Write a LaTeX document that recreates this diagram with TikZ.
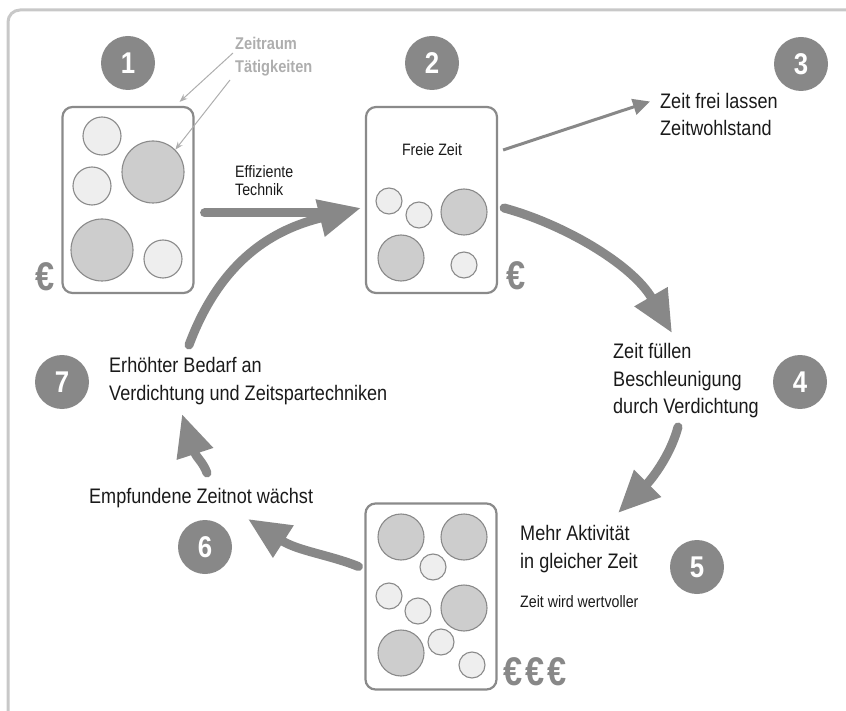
\documentclass[tikz,border=0pt]{standalone}
\usepackage{fontspec}
\setmainfont{Liberation Sans}[FakeStretch=0.86]
\usetikzlibrary{arrows.meta,positioning,calc}
\definecolor{arrowgray}{HTML}{888888}
\definecolor{rimgray}{HTML}{8A8A8A}
\definecolor{hintgray}{HTML}{AEAEAE}
\definecolor{framegray}{HTML}{C8C8C8}
\definecolor{lightfill}{HTML}{EEEEEE}
\definecolor{darkfill}{HTML}{CDCDCD}
\definecolor{inkblack}{HTML}{1A1A1A}

\begin{document}
\begin{tikzpicture}[
x=1pt,y=-1pt,
>={Triangle[length=42pt,width=36pt]},
badge/.style={
	circle,
	fill=arrowgray,
	text=white,
	minimum size=54pt,
	inner sep=0pt,
	font=\fontsize{30}{30}\selectfont\bfseries
},
panel/.style={
	draw=rimgray,
	line width=2.2pt,
	rounded corners=10pt,
	minimum width=131pt,
	minimum height=186pt,
	inner sep=0pt
},
lightdot/.style={
	circle,
	draw=rimgray,
	fill=lightfill,
	line width=1.1pt,
	inner sep=0pt
},
darkdot/.style={
	circle,
	draw=rimgray,
	fill=darkfill,
	line width=1.1pt,
	inner sep=0pt
},
say/.style={
	anchor=west,
	align=left,
	text=inkblack,
	inner sep=0pt,
	font=\fontsize{21}{27.5}\selectfont
},
small/.style={
	align=left,
	text=inkblack,
	inner sep=0pt,
	font=\fontsize{16.5}{18}\selectfont
},
euro/.style={
	text=arrowgray,
	inner sep=0pt,
	font=\fontsize{40}{40}\selectfont\bfseries
},
hintlabel/.style={
	anchor=west,
	text=hintgray,
	inner sep=0pt,
	font=\fontsize{17}{17}\selectfont\bfseries
},
flow/.style={
	->,
	draw=arrowgray,
	line width=9pt,
	line cap=round
},
thinflow/.style={
	-{Triangle[length=17pt,width=16pt]},
	draw=arrowgray,
	line width=3pt
},
hint/.style={
	-{Stealth[length=8pt,width=6pt]},
	draw=hintgray,
	line width=1pt
}
]
\useasboundingbox (0,0) rectangle (846,711);
\begin{scope}
\clip (0,0) rectangle (846,711);
\draw[framegray,line width=3pt,rounded corners=12pt] (8,760) -- (8,10) -- (900,10);
\end{scope}

% the three panels
\node[panel] (panA) at (128,200) {};
\node[panel] (panB) at (431.5,200) {};
\node[panel] (panC) at (431,596.5) {};

% activities in panel 1
\foreach \x/\y/\n in {102/136/1,92/186/2,163/259/3}
\node[lightdot,minimum size=38pt] (la\n) at (\x,\y) {};
\foreach \x/\y/\n in {153/172/1,102/250/2}
\node[darkdot,minimum size=62pt] (da\n) at (\x,\y) {};

% activities in panel 2
\foreach \x/\y/\n in {389/201/1,419/215/2,464/265/3}
\node[lightdot,minimum size=26pt] (lb\n) at (\x,\y) {};
\foreach \x/\y/\n in {464/212/1,401/258/2}
\node[darkdot,minimum size=46pt] (db\n) at (\x,\y) {};
\node[small,anchor=center] (freetime) at (432,150) {Freie Zeit};

% activities in panel 3
\foreach \x/\y/\n in {433/567/1,389/596/2,418/611/3,441/642/4,472/665/5}
\node[lightdot,minimum size=26pt] (lc\n) at (\x,\y) {};
\foreach \x/\y/\n in {401/537/1,464/537/2,464/608/3,401/653/4}
\node[darkdot,minimum size=46pt] (dc\n) at (\x,\y) {};

% money
\node[euro] (eurA) at (45,277) {€};
\node[euro] (eurB) at (516,276) {€};
\node[euro,anchor=west] (eurC) at (503,672) {€\kern3pt€\kern3pt€};

% numbers
\foreach \n/\x/\y in {1/128/63,2/432/63,3/801/64,4/800/382,5/697/567,6/205/547,7/62/382}
\node[badge] (n\n) at (\x,\y) {\n};

% texts
\node[hintlabel] (raum) at (235,43) {Zeitraum};
\node[hintlabel] (taet) at (235,68) {Tätigkeiten};
\node[small,anchor=west] (tech) at (235,181) {Effiziente\\Technik};
\node[say] (t3) at (660,114.5) {Zeit frei lassen\\Zeitwohlstand};
\node[say] (t4) at (613,381) {Zeit füllen\\Beschleunigung\\durch Verdichtung};
\node[say] (t5) at (520,549) {Mehr Aktivität\\in gleicher Zeit};
\node[small,anchor=west] (t5b) at (520,602) {Zeit wird wertvoller};
\node[say] (t6) at (89,498) {Empfundene Zeitnot wächst};
\node[say] (t7) at (109,381) {Erhöhter Bedarf an\\Verdichtung und Zeitspartechniken};

% hints
\draw[hint] ([shift={(-2,10)}]raum.west) -- ([shift={(-15,-4)}]panA.north east);
\draw[hint] ([shift={(-5,12)}]taet.west) -- (da1.north east);

% cycle
\draw[flow,-] ([shift={(10,13)}]panA.east) -- ([shift={(-36,13)}]panB.west);
\draw[flow] (189,345) .. controls (224,251) and (284,227) .. ([shift={(-4,8)}]panB.west);
\draw[thinflow] ([shift={(5,-50)}]panB.east) -- ([shift={(-10,-13)}]t3.west);
\draw[flow] ([shift={(6,8)}]panB.east) .. controls (563,224) and (632,264) .. (672,333);
\draw[flow] (678,427) .. controls (670,457) and (650,481) .. (618,513);
\draw[flow] ([shift={(-6,-30)}]panC.west) .. controls (330,555) and (298,551) .. (248,519);
\draw[flow] (207,473) .. controls (203,462) and (196,457) .. (182,414);
\end{tikzpicture}
\end{document}
